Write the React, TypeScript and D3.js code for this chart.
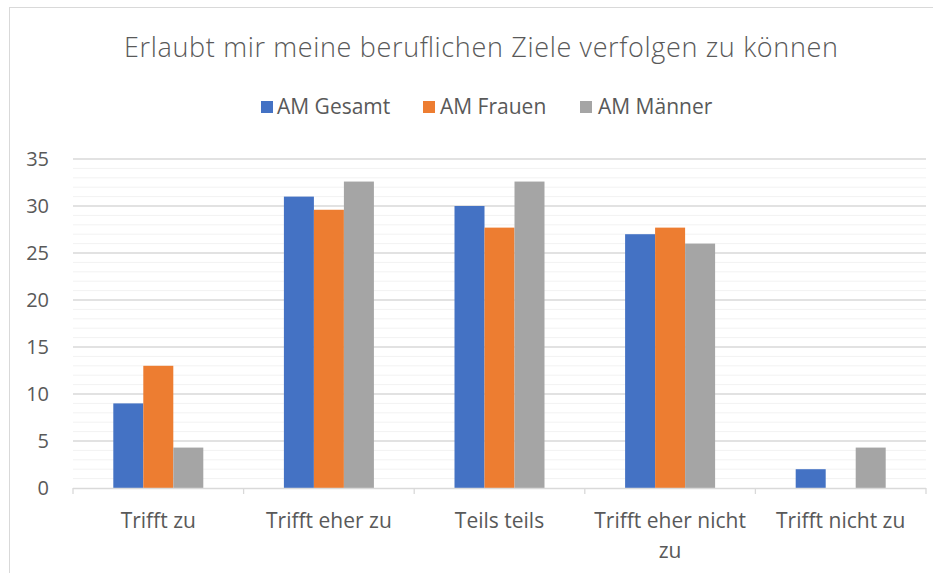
import React from "react";
import * as d3 from "d3";

const categories: string[][] = [
  ["Trifft zu"],
  ["Trifft eher zu"],
  ["Teils teils"],
  ["Trifft eher nicht", "zu"],
  ["Trifft nicht zu"],
];
const seriesNames = ["AM Gesamt", "AM Frauen", "AM Männer"];
const gesamt = [9, 31, 30, 27, 2];
const frauen = [13, 29.6, 27.7, 27.7, 0];
const maenner = [4.3, 32.6, 32.6, 26, 4.3];
const yTicks = [0, 5, 10, 15, 20, 25, 30, 35];
const colors = ["#4472C4", "#ED7D31", "#A5A5A5"];
const title = "Erlaubt mir meine beruflichen Ziele verfolgen zu können";

const W = 943;
const H = 573;
const plot = { left: 73, right: 926, top: 159, bottom: 488 };
const FONT = "'Open Sans', Lato, sans-serif";
const TXT = "#595959";

export default function App() {
  const series = [gesamt, frauen, maenner];
  const y = d3.scaleLinear().domain([0, 35]).range([plot.bottom, plot.top]);
  const x0 = d3
    .scaleBand<number>()
    .domain(d3.range(categories.length))
    .range([plot.left, plot.right])
    .paddingInner(0)
    .paddingOuter(0);
  const groupW = x0.bandwidth() * (90 / 170.6);
  const x1 = d3
    .scaleBand<number>()
    .domain(d3.range(series.length))
    .range([0, groupW])
    .padding(0);
  const minor = d3.range(0, 36, 1).filter((v) => v % 5 !== 0);

  const legendItems = [
    { x: 261, tx: 277 },
    { x: 423, tx: 440 },
    { x: 580, tx: 598 },
  ];

  return (
    <svg
      width={W}
      height={H}
      style={{ position: "absolute", left: 0, top: 0, background: "#fff" }}
    >
      <rect x={0} y={0} width={W} height={H} fill="#fff" />
      {/* chart border */}
      <line x1={9} y1={7.5} x2={933} y2={7.5} stroke="#d9d9d9" strokeWidth={1} />
      <line x1={9.5} y1={7} x2={9.5} y2={H} stroke="#d9d9d9" strokeWidth={1} />

      <text
        x={481}
        y={57}
        textAnchor="middle"
        fontFamily={FONT}
        fontWeight={300}
        fontSize={27}
        textLength={714}
        lengthAdjust="spacing"
        fill={TXT}
      >
        {title}
      </text>

      {/* legend */}
      {seriesNames.map((n, i) => (
        <g key={n}>
          <rect x={legendItems[i].x} y={101} width={12} height={12} fill={colors[i]} />
          <text
            x={legendItems[i].tx}
            y={114}
            fontFamily={FONT}
            fontSize={21}
            fill={TXT}
          >
            {n}
          </text>
        </g>
      ))}

      {/* minor gridlines */}
      {minor.map((v) => (
        <line
          key={"m" + v}
          x1={plot.left}
          x2={plot.right}
          y1={y(v)}
          y2={y(v)}
          stroke="#f2f2f2"
          strokeWidth={1}
        />
      ))}
      {/* major gridlines */}
      {yTicks.map((v) =>
        v === 0 ? null : (
          <line
            key={"M" + v}
            x1={plot.left}
            x2={plot.right}
            y1={y(v)}
            y2={y(v)}
            stroke="#d9d9d9"
            strokeWidth={1.3}
          />
        )
      )}
      {/* y labels */}
      {yTicks.map((v) => (
        <text
          key={"t" + v}
          x={49}
          y={y(v)}
          dy="0.35em"
          textAnchor="end"
          fontFamily={FONT}
          fontSize={20}
          fill={TXT}
        >
          {v}
        </text>
      ))}

      {/* bars */}
      {categories.map((c, ci) => {
        const gx = (x0(ci) as number) + (x0.bandwidth() - groupW) / 2;
        return series.map((s, si) =>
          s[ci] > 0 ? (
            <rect
              key={ci + "-" + si}
              x={gx + (x1(si) as number)}
              y={y(s[ci])}
              width={x1.bandwidth()}
              height={y(0) - y(s[ci])}
              fill={colors[si]}
            />
          ) : null
        );
      })}

      {/* category axis */}
      <line
        x1={plot.left}
        x2={plot.right}
        y1={plot.bottom + 0.5}
        y2={plot.bottom + 0.5}
        stroke="#d9d9d9"
        strokeWidth={1.3}
      />
      {d3.range(categories.length + 1).map((i) => {
        const xx = plot.left + i * x0.bandwidth();
        return (
          <line
            key={"tk" + i}
            x1={xx}
            x2={xx}
            y1={plot.bottom}
            y2={plot.bottom + 6}
            stroke="#d9d9d9"
            strokeWidth={1.3}
          />
        );
      })}
      {categories.map((lines, ci) => (
        <text
          key={"c" + ci}
          x={(x0(ci) as number) + x0.bandwidth() / 2}
          y={528}
          textAnchor="middle"
          fontFamily={FONT}
          fontSize={21}
          fill={TXT}
        >
          {lines.map((l, li) => (
            <tspan key={li} x={(x0(ci) as number) + x0.bandwidth() / 2} dy={li === 0 ? 0 : 30}>
              {l}
            </tspan>
          ))}
        </text>
      ))}
    </svg>
  );
}
